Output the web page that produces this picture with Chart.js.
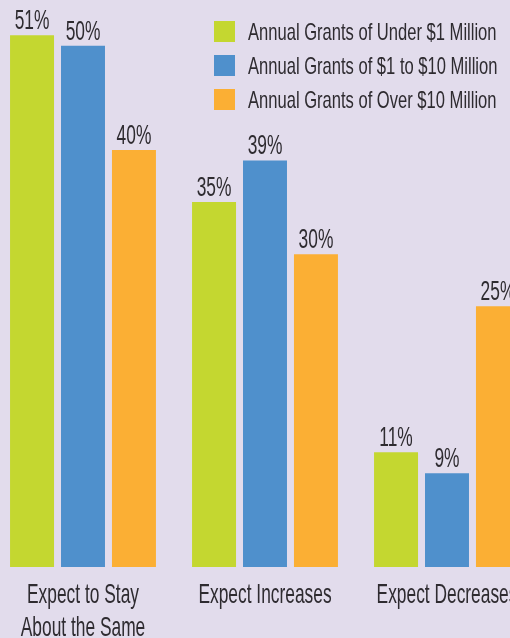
<!DOCTYPE html>
<html>
<head>
<meta charset="utf-8">
<script src="https://cdn.jsdelivr.net/npm/chart.js@4/dist/chart.umd.min.js"></script>
<style>
  html, body { margin: 0; padding: 0; background: #e2dcec; overflow: hidden; }
  #wrap { position: relative; width: 510px; height: 638px; overflow: hidden; }
  #wrap canvas { position: absolute; left: -8px; top: 0; }
</style>
</head>
<body>
<div id="wrap"><canvas id="grafico" width="546" height="638"></canvas></div>
<script>
const categorias = [["Expect to Stay", "About the Same"], ["Expect Increases"], ["Expect Decreases"]];
const series = [
  "Annual Grants of Under $1 Million",
  "Annual Grants of $1 to $10 Million",
  "Annual Grants of Over $10 Million"
];
const bajo1M = [51, 35, 11];
const de1a10M = [50, 39, 9];
const sobre10M = [40, 30, 25];
const colores = ["#c4d730", "#4f90cc", "#fbaf34"];

const colorTexto = "#2e2b30";
const fuente = "'Liberation Sans', Arial, sans-serif";

// texto angosto (la fuente original es una condensada)
const textoAngosto = (ctx, txt, x, y, size, sx, align) => {
  ctx.save();
  ctx.font = `${size}px ${fuente}`;
  ctx.fillStyle = colorTexto;
  ctx.textBaseline = "alphabetic";
  ctx.translate(x, y);
  ctx.scale(sx, 1);
  ctx.textAlign = align;
  ctx.fillText(txt, 0, 0);
  ctx.restore();
};

const etiquetas = {
  id: "etiquetas",
  afterDatasetsDraw(chart) {
    const ctx = chart.ctx;
    // valores sobre las barras
    chart.data.datasets.forEach((ds, i) => {
      chart.getDatasetMeta(i).data.forEach((bar, j) => {
        textoAngosto(ctx, ds.data[j] + "%", bar.x, bar.y - 6, 28, 0.62, "center");
      });
    });
    // categorias
    const x = chart.scales.x;
    const base = chart.chartArea.bottom;
    chart.data.labels.forEach((lab, i) => {
      const cx = x.getPixelForTick(i);
      lab.forEach((linea, k) => {
        textoAngosto(ctx, linea, cx, base + 36 + k * 33, 28, 0.62, "center");
      });
    });
    // leyenda
    chart.data.datasets.forEach((ds, i) => {
      const y = 21 + i * 34;
      ctx.fillStyle = ds.backgroundColor;
      ctx.fillRect(222, y, 21, 21);
      textoAngosto(ctx, ds.label, 256, y + 19, 24, 0.69, "left");
    });
  }
};

const config = {
  type: "bar",
  data: {
    labels: categorias,
    datasets: [
      { label: series[0], data: bajo1M, backgroundColor: colores[0] },
      { label: series[1], data: de1a10M, backgroundColor: colores[1] },
      { label: series[2], data: sobre10M, backgroundColor: colores[2] }
    ]
  },
  options: {
    responsive: false,
    animation: false,
    layout: { padding: { top: 4, bottom: 71, left: 0, right: 0 } },
    datasets: { bar: { categoryPercentage: 0.84, barPercentage: 0.863 } },
    scales: {
      x: { display: false },
      y: { display: false, min: 0, max: 54 }
    },
    plugins: {
      legend: { display: false },
      tooltip: { enabled: false }
    }
  },
  plugins: [etiquetas]
};

new Chart(document.getElementById("grafico"), config);
</script>
</body>
</html>
